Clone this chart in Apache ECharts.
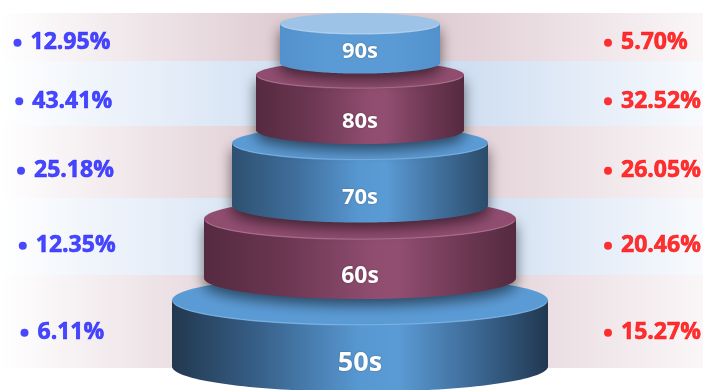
<!DOCTYPE html>
<html>
<head>
<meta charset="utf-8">
<script src="https://cdn.jsdelivr.net/npm/echarts@6/dist/echarts.min.js"></script>
<style>
html,body{margin:0;padding:0;background:#ffffff;}
#c{width:703px;height:390px;}
</style>
</head>
<body>
<div id="c"></div>
<script>
// ---------------- data (bottom tier first) ----------------
const categories = ['50s', '60s', '70s', '80s', '90s'];
const leftShare  = [6.11, 12.35, 25.18, 43.41, 12.95];
const rightShare = [15.27, 20.46, 26.05, 32.52, 5.70];

// ---------------- layout (axis units), bottom tier first ----------------
const bandHeight = [93, 77, 72, 65, 48];
const tierRadius = [188, 156, 128, 104, 80];
const sideHeight = [66, 59, 62, 55, 39];
const labelSize  = [27, 23, 22, 22, 22];
const labelNudge = [-1, 2, 1, 1, -5];
const TOTAL = bandHeight.reduce((a, b) => a + b, 0);
function bandTop(i) { let s = 0; for (let k = i + 1; k < bandHeight.length; k++) s += bandHeight[k]; return s; }
function bandBottom(i) { return bandTop(i) + bandHeight[i]; }
function rowY(i) { return bandTop(i) + bandHeight[i] * 0.62; }

const FONT = '"Open Sans", "Noto Sans", sans-serif';

function lin(stops) {
  return { type: 'linear', x: 0, y: 0, x2: 1, y2: 0, global: false,
    colorStops: stops.map(s => ({ offset: s[0], color: s[1] })) };
}
const pinkBand = lin([[0, '#ffffff'], [0.5, '#d7c0c8'], [1, '#faf6f8']]);
const blueBand = lin([[0, '#ffffff'], [0.55, '#c2d5ee'], [1, '#f8fafd']]);
const bandFill = [pinkBand, blueBand, pinkBand, blueBand, pinkBand];

const blueSide = lin([[0, '#22384f'], [0.22, '#365e86'], [0.5, '#5898d2'], [0.6, '#5b9bd5'], [0.82, '#3a6590'], [1, '#213750']]);
const blueSide2 = lin([[0, '#2e5070'], [0.25, '#3f6e9c'], [0.5, '#5898d2'], [0.6, '#5b9bd5'], [0.82, '#3f6d99'], [1, '#2b4b69']]);
const maroonSide = lin([[0, '#552a40'], [0.25, '#6a3651'], [0.55, '#914d70'], [0.62, '#924e71'], [0.85, '#6a3651'], [1, '#552a40']]);
const lightSide = lin([[0, '#5291cc'], [0.3, '#5b9bd5'], [0.7, '#5b9bd5'], [1, '#5291cc']]);
const tierStyle = [
  { side: blueSide,   top: '#5b9bd5' },
  { side: maroonSide, top: '#914d70' },
  { side: blueSide2,  top: '#5b9bd5' },
  { side: maroonSide, top: '#914d70' },
  { side: lightSide,  top: '#9dc3e6' }
];

function ell(cx, cy, rx, ry, t0, t1, n) {
  const pts = [];
  for (let k = 0; k <= n; k++) {
    const t = t0 + (t1 - t0) * k / n;
    pts.push([cx + rx * Math.cos(t), cy + ry * Math.sin(t)]);
  }
  return pts;
}

function renderBand(params, api) {
  const i = params.dataIndex;
  const a = api.coord([0, bandTop(i)]);
  const b = api.coord([0, bandBottom(i)]);
  return {
    type: 'rect',
    shape: { x: 0, y: a[1], width: api.getWidth(), height: b[1] - a[1] },
    style: { fill: bandFill[i] },
    silent: true
  };
}

function renderTier(params, api) {
  const i = params.dataIndex;
  const p = api.coord([0, bandTop(i)]);
  const cx = p[0];
  const rx = api.size([tierRadius[i], 0])[0];
  const ry = rx * 0.135;
  const topCy = p[1] + ry;
  const botCy = topCy + api.size([0, sideHeight[i]])[1];
  const sidePts = [[cx - rx, topCy]].concat(ell(cx, botCy, rx, ry, Math.PI, 0, 80), [[cx + rx, topCy]]);
  const st = tierStyle[i];
  const sideStyle = { fill: st.side };
  if (i > 0) {
    sideStyle.shadowBlur = 14;
    sideStyle.shadowOffsetY = 6;
    sideStyle.shadowColor = 'rgba(0,0,0,0.55)';
  }
  return {
    type: 'group',
    children: [
      { type: 'polygon', shape: { points: sidePts }, style: sideStyle },
      { type: 'polygon', shape: { points: ell(cx, topCy, rx, ry, 0, Math.PI * 2, 120) }, style: { fill: st.top } },
      { type: 'polyline', shape: { points: ell(cx, topCy, rx - 1, ry - 1, Math.PI * 0.97, Math.PI * 0.03, 60) },
        style: { stroke: 'rgba(255,255,255,0.22)', lineWidth: 1, fill: null } },
      { type: 'text',
        style: { text: categories[i], x: cx, y: topCy + ry + (botCy - topCy) * 0.58 + labelNudge[i],
          fill: '#ffffff', fontSize: labelSize[i], fontWeight: 'bold', fontFamily: FONT,
          align: 'center', verticalAlign: 'middle',
          textShadowColor: 'rgba(0,0,0,0.3)', textShadowBlur: 2 } }
    ]
  };
}

const leftPts = leftShare.map((v, i) => [24.5 - 1.75 * i - 360, rowY(i), v]);
const rightPts = rightShare.map((v, i) => [608 - 360, rowY(i), v]);

function pctLabel(color) {
  return {
    show: true, position: 'right', distance: 9,
    formatter: p => p.value[2].toFixed(2) + '%',
    color: color, fontSize: 23, fontWeight: 'bold', fontFamily: FONT,
    textBorderColor: color, textBorderWidth: 0.6
  };
}

const chart = echarts.init(document.getElementById('c'), null, { renderer: 'canvas' });
chart.setOption({
  animation: false,
  backgroundColor: '#ffffff',
  grid: { left: 0, right: 0, top: 13, bottom: 390 - 13 - TOTAL },
  xAxis: { type: 'value', min: -360, max: 343, show: false },
  yAxis: { type: 'value', min: 0, max: TOTAL, inverse: true, show: false },
  series: [
    { type: 'custom', name: 'bands', renderItem: renderBand, data: categories.map((c, i) => [i]),
      clip: false, silent: true, z: 1 },
    { type: 'custom', name: 'tiers', renderItem: renderTier, data: categories.map((c, i) => [i]),
      clip: false, silent: true, z: 2 },
    { type: 'scatter', name: 'left', data: leftPts, encode: { x: 0, y: 1 }, symbol: 'circle', symbolSize: 8,
      itemStyle: { color: '#1a1aff' }, label: pctLabel('#1a1aff'), silent: true, z: 3 },
    { type: 'scatter', name: 'right', data: rightPts, encode: { x: 0, y: 1 }, symbol: 'circle', symbolSize: 8,
      itemStyle: { color: '#ff0000' }, label: pctLabel('#ff0000'), silent: true, z: 3 }
  ]
});
</script>
</body>
</html>
